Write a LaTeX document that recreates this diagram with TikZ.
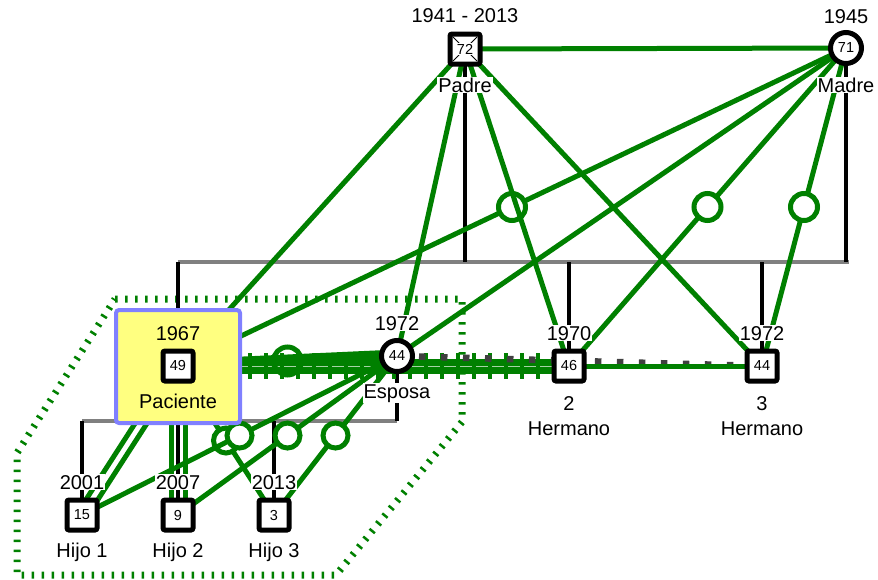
\documentclass[tikz,border=0pt]{standalone}
\usepackage{fontspec}
\setmainfont{Liberation Sans}
\usetikzlibrary{calc,backgrounds}

\definecolor{rel}{RGB}{0,128,0}
\definecolor{famgray}{RGB}{128,128,128}
\definecolor{pbox}{RGB}{255,255,128}
\definecolor{pborder}{RGB}{128,128,255}
\definecolor{distant}{RGB}{64,64,64}

\tikzset{
  lbl/.style={font=\fontsize{20}{23}\selectfont, fill=white, inner sep=1pt},
  agetxt/.style={font=\fontsize{14.5}{16}\selectfont, inner sep=0.5pt},
  male/.style={rectangle, draw=black, line width=5, fill=white, minimum size=30,
    rounded corners=2, inner sep=0, font=\fontsize{14.5}{16}\selectfont},
  female/.style={circle, draw=black, line width=5, fill=white, minimum size=31,
    inner sep=0, font=\fontsize{14.5}{16}\selectfont},
  emo/.style={draw=rel, line width=5},
  ring/.style={circle, draw=rel, line width=5, fill=white, minimum size=27, inner sep=0},
  smallring/.style={ring, minimum size=25},
  fam/.style={draw=famgray, line width=4},
  desc/.style={draw=black, line width=4.5},
  household/.style={draw=rel, line width=7, dash pattern=on 2.5 off 7.5},
  distantrel/.style={draw=distant, line width=6.5, dash pattern=on 6.5 off 15.5},
}

\begin{document}
\begin{tikzpicture}[x=1pt,y=-1pt]
\useasboundingbox (0,0) rectangle (878,579);

% people
\node[male] (padre) at (465,49) {};
\node[female] (madre) at (846,48) {71};
\node[draw=pborder, fill=pbox, line width=4, rounded corners=3,
      minimum width=124, minimum height=113, inner sep=0] (pbox) at (178,366.5) {};
\node[male] (pac) at (178,366) {49};
\node[female] (esp) at (397,356) {44};
\node[male] (her2) at (569,366) {46};
\node[male] (her3) at (762,366) {44};
\node[male] (hijo1) at (82,515) {15};
\node[male] (hijo2) at (178,515) {9};
\node[male] (hijo3) at (274,515) {3};

% deceased mark on the father
\draw[line width=0.8] ($(padre.center)+(-12,-12)$) -- ($(padre.center)+(12,12)$);
\draw[line width=0.8] ($(padre.center)+(12,-12)$) -- ($(padre.center)+(-12,12)$);
\node[agetxt, fill=white] at (padre.center) {72};

\begin{pgfonlayer}{background}
  % household boundary
  \draw[household] (115,299) -- (462,299) -- (462,422) -- (336,575)
        -- (17,575) -- (17,453) -- cycle;

  % family lines
  \coordinate (pbar) at (465,262);
  \coordinate (mbar) at (846,262);
  \coordinate (sibL) at (178,262);
  \coordinate (sibR) at (849,262);
  \coordinate (h2bar) at (569,262);
  \coordinate (h3bar) at (762,262);
  \draw[fam] (sibL) -- (sibR);
  \draw[desc] (padre.center) -- (pbar);
  \draw[desc] (madre.center) -- (mbar);
  \draw[desc] (sibL) -- (pbox.north);
  \draw[desc] (h2bar) -- (her2.center);
  \draw[desc] (h3bar) -- (her3.center);

  \coordinate (mL) at (82,421);
  \coordinate (mR) at (397,421);
  \coordinate (c2) at (178,421);
  \coordinate (c3) at (274,421);
  \draw[fam] (mL) -- (mR);
  \draw[desc] (esp.center) -- (mR);
  \draw[desc] (mL) -- (hijo1.center);
  \draw[desc] (c2) -- (hijo2.center);
  \draw[desc] (c3) -- (hijo3.center);

  % emotional relationships
  \draw[emo] (padre.center) -- (madre.center);
  \draw[emo] (madre.center) -- (pac.center);
  \node[ring] (r1) at ($(madre.center)!0.5!(pac.center)$) {};
  \draw[emo] (padre.center) -- (pac.center);
  \draw[emo] (padre.center) -- (esp.center);
  \draw[emo] (padre.center) -- (her2.center);
  \draw[emo] (padre.center) -- (her3.center);
  \draw[emo] (madre.center) -- (esp.center);
  \draw[emo] (madre.center) -- (her2.center);
  \node[ring] (r2) at ($(madre.center)!0.5!(her2.center)$) {};
  \draw[emo] (madre.center) -- (her3.center);
  \node[ring] (r3) at ($(madre.center)!0.5!(her3.center)$) {};

  % patient with wife and brother
  \draw[rel, line width=13] (pac.center) -- (esp.center);
  \draw[rel, line width=15] (pac.center) -- (her2.center);
  \draw[rel!35!white, line width=1] (pac.center) -- (her2.center);
  \foreach \x in {250,266,...,546}
    \draw[rel, line width=3.5] (\x,353) -- (\x,379);
  \node[ring, fill=none, minimum size=28] (r4) at ($(pac.center)!0.5!(esp.center)$) {};
  \draw[distantrel] (esp.center) -- (her3.center);
  \draw[emo] (her2.center) -- (her3.center);

  % parents and children
  \draw[emo] ($(pac.center)!5pt!90:(hijo1.center)$) -- ($(hijo1.center)!5pt!-90:(pac.center)$);
  \draw[emo] ($(pac.center)!5pt!-90:(hijo1.center)$) -- ($(hijo1.center)!5pt!90:(pac.center)$);
  \draw[emo] ($(pac.center)!7pt!90:(hijo2.center)$) -- ($(hijo2.center)!7pt!-90:(pac.center)$);
  \draw[emo] ($(pac.center)!7pt!-90:(hijo2.center)$) -- ($(hijo2.center)!7pt!90:(pac.center)$);
  \draw[emo] (pac.center) -- (hijo3.center);
  \node[smallring] (r5) at ($(pac.center)!0.5!(hijo3.center)$) {};
  \draw[emo] (esp.center) -- (hijo1.center);
  \node[smallring] (r6) at ($(esp.center)!0.5!(hijo1.center)$) {};
  \draw[emo] (esp.center) -- (hijo2.center);
  \node[smallring] (r7) at ($(esp.center)!0.5!(hijo2.center)$) {};
  \draw[emo] (esp.center) -- (hijo3.center);
  \node[smallring] (r8) at ($(esp.center)!0.5!(hijo3.center)$) {};
\end{pgfonlayer}

% labels
\node[lbl, anchor=base] (tpadre) at (465,22) {1941 - 2013};
\node[lbl, anchor=base] (npadre) at (465,92) {Padre};
\node[lbl, anchor=base] (tmadre) at (846,23) {1945};
\node[lbl, anchor=base] (nmadre) at (846,92) {Madre};
\node[lbl, fill=none, anchor=base] (tpac) at (178,340) {1967};
\node[lbl, fill=none, anchor=base] (npac) at (178,408) {Paciente};
\node[lbl, anchor=base] (tesp) at (397,330) {1972};
\node[lbl, anchor=base] (nesp) at (397,398) {Esposa};
\node[lbl, anchor=base] (ther2) at (569,340) {1970};
\node[lbl, anchor=base] (kher2) at (569,410) {2};
\node[lbl, anchor=base] (nher2) at (569,435) {Hermano};
\node[lbl, anchor=base] (ther3) at (762,340) {1972};
\node[lbl, anchor=base] (kher3) at (762,410) {3};
\node[lbl, anchor=base] (nher3) at (762,435) {Hermano};
\node[lbl, anchor=base] (thijo1) at (82,489) {2001};
\node[lbl, anchor=base] (thijo2) at (178,489) {2007};
\node[lbl, anchor=base] (thijo3) at (274,489) {2013};
\node[lbl, anchor=base] (nhijo1) at (82,557) {Hijo 1};
\node[lbl, anchor=base] (nhijo2) at (178,557) {Hijo 2};
\node[lbl, anchor=base] (nhijo3) at (274,557) {Hijo 3};
\end{tikzpicture}
\end{document}
